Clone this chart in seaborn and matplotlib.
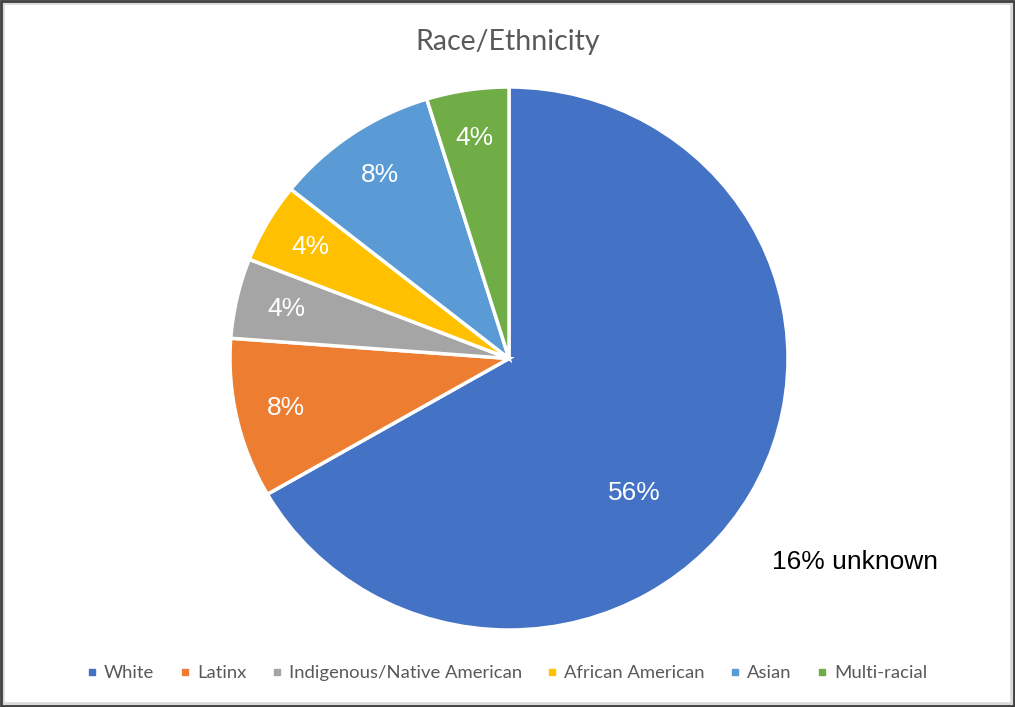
import numpy as np
import matplotlib.pyplot as plt
import seaborn as sns
from matplotlib.lines import Line2D
from matplotlib.patches import Rectangle

sns.set_theme(style="white")

# data
groups = ["White", "Latinx", "Indigenous/Native American", "African American", "Asian", "Multi-racial"]
shares = [56, 8, 4, 4, 8, 4]
share_labels = ["56%", "8%", "4%", "4%", "8%", "4%"]
colors = ["#4472C4", "#ED7D31", "#A5A5A5", "#FFC000", "#5B9BD5", "#70AD47"]
unknown_note = "16% unknown"

fig = plt.figure(figsize=(10.15, 7.07), dpi=100)
ax = fig.add_axes([230 / 1015, 1 - 630 / 707, 558 / 1015, 543 / 707])

wedges, texts = ax.pie(
    shares, colors=colors, startangle=90, counterclock=False,
    labels=share_labels, labeldistance=0.82,
    wedgeprops=dict(edgecolor="white", linewidth=2.5),
    textprops=dict(color="white", fontsize=19, family="Liberation Sans"),
)
for t in texts:
    t.set_ha("center")
    t.set_va("center")
# the big slice label sits further inside, as in the original
ang = np.deg2rad(-47.7)
texts[0].set_position((0.67 * np.cos(ang), 0.67 * np.sin(ang)))

ax.set_aspect("auto")
ax.set_xlim(-1, 1)
ax.set_ylim(-1, 1)

fig.text(0.5, 1 - 42 / 707, "Race/Ethnicity", ha="center", va="center",
         fontsize=20.5, color="#595959", family="Lato")
fig.text(855 / 1015, 1 - 562 / 707, unknown_note, ha="center", va="center",
         fontsize=19, color="black", family="Liberation Sans")

handles = [Line2D([], [], marker="s", linestyle="", markersize=4, color=c) for c in colors]
fig.legend(handles, groups, loc="center", bbox_to_anchor=(0.5, 1 - 673 / 707),
           ncol=6, frameon=False, handlelength=0.5, handletextpad=0.4, columnspacing=1.4,
           prop=dict(family="Lato", size=13.3), labelcolor="#595959")

# chart frame
fig.patches.append(Rectangle((0.002, 0.003), 0.996, 0.994, transform=fig.transFigure,
                             fill=False, edgecolor="#D9D9D9", linewidth=4))
fig.patches.append(Rectangle((0.001, 0.001), 0.998, 0.998, transform=fig.transFigure,
                             fill=False, edgecolor="#404040", linewidth=2))

fig.savefig("out.png", dpi=100)
